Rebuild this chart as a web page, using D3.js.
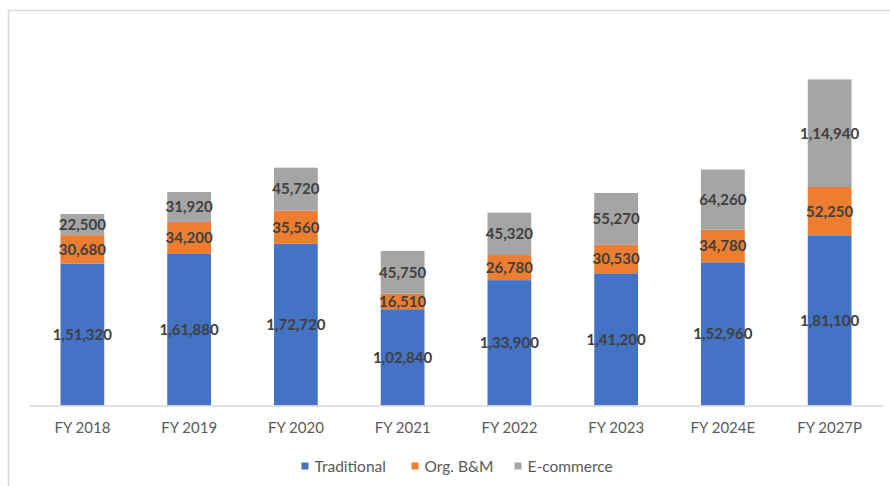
<!DOCTYPE html>
<html><head><meta charset="utf-8">
<script src="https://cdn.jsdelivr.net/npm/d3@7"></script>
<style>
html,body{margin:0;padding:0;background:#fff;}
svg{display:block;font-family:Lato,"Open Sans",sans-serif;}
</style></head>
<body><svg id="chart" width="890" height="486"></svg>
<script>
const categories = ["FY 2018","FY 2019","FY 2020","FY 2021","FY 2022","FY 2023","FY 2024E","FY 2027P"];
const traditional = [151320,161880,172720,102840,133900,141200,152960,181100];
const orgBM = [30680,34200,35560,16510,26780,30530,34780,52250];
const ecommerce = [22500,31920,45720,45750,45320,55270,64260,114940];
const seriesNames = ["Traditional","Org. B&M","E-commerce"];
const colors = ["#4472C4","#ED7D31","#A5A5A5"];

const fmt = v => v.toLocaleString("en-IN");
const svg = d3.select("#chart");

// chart frame
svg.append("path").attr("d","M8.5,486 V10.5 H890").attr("fill","none").attr("stroke","#D9D9D9").attr("stroke-width",1.5);

const x = d3.scaleBand().domain(categories).range([29,883]).paddingInner(0.59).paddingOuter(0.295);
const y = d3.scaleLinear().domain([0,400000]).range([405.5,31]);

const rows = categories.map((c,i)=>({cat:c, "Traditional":traditional[i], "Org. B&M":orgBM[i], "E-commerce":ecommerce[i]}));
const stack = d3.stack().keys(seriesNames)(rows);

stack.forEach((s,si)=>{
  const g = svg.append("g");
  g.selectAll("rect").data(s).enter().append("rect")
    .attr("x",d=>x(d.data.cat)).attr("width",x.bandwidth())
    .attr("y",d=>y(d[1])).attr("height",d=>y(d[0])-y(d[1]))
    .attr("fill",colors[si]);
});
stack.forEach((s,si)=>{
  svg.append("g").selectAll("text").data(s).enter().append("text")
    .attr("x",d=>x(d.data.cat)+x.bandwidth()/2)
    .attr("y",d=>(y(d[0])+y(d[1]))/2)
    .attr("dy","0.36em").attr("text-anchor","middle")
    .attr("font-size",15).attr("font-weight",700).attr("fill","#404040")
    .text(d=>fmt(d[1]-d[0]));
});

// axis
const ax = svg.append("g").attr("transform","translate(0,405.5)").call(d3.axisBottom(x).tickSize(0).tickPadding(17));
ax.select(".domain").attr("stroke","#D9D9D9").attr("stroke-width",1.5);
ax.selectAll("text").attr("font-size",15).attr("fill","#595959").attr("font-family","Lato,'Open Sans',sans-serif");

// legend
const legX = [301.5,411.5,514.5];
const leg = svg.append("g");
seriesNames.forEach((n,i)=>{
  leg.append("rect").attr("x",legX[i]).attr("y",462.5).attr("width",7).attr("height",7).attr("fill",colors[i]);
  leg.append("text").attr("x",legX[i]+13).attr("y",466).attr("dy","0.36em").attr("font-size",15.5).attr("fill","#595959").text(n);
});
</script></body></html>
